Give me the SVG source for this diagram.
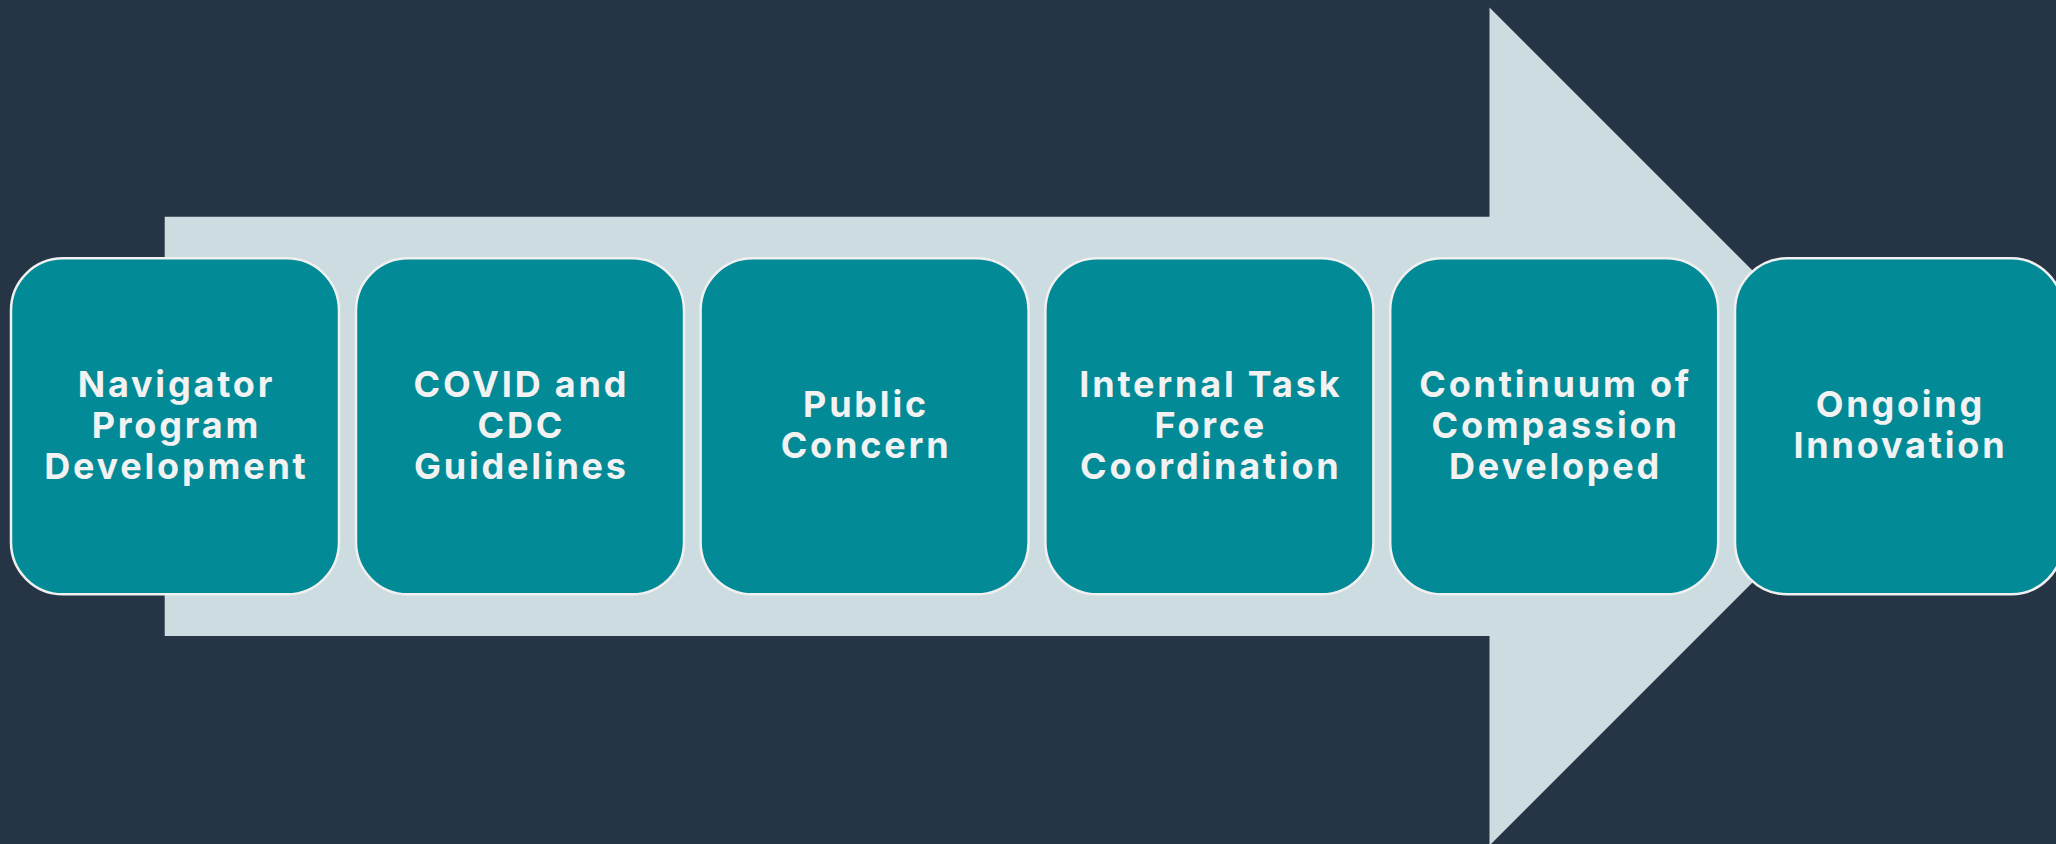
<svg xmlns="http://www.w3.org/2000/svg" width="2056" height="844" viewBox="0 0 2056 844">
<style>
.box{fill:#028A96;stroke:#F0F0F0;stroke-width:2.5}
.t{font-family:Inter,"Liberation Sans",sans-serif;font-weight:700;font-size:36px;letter-spacing:2.8px;fill:#F2F2F2;text-anchor:middle}
</style>
<rect width="2056" height="844" fill="#253546"/>
<g id="connectors">
<polygon points="164.7,216.7 1489.5,216.7 1489.5,7.5 1908.5,426.5 1489.5,845.5 1489.5,636 164.7,636" fill="#CCDCE0"/>
</g>
<g id="n1"><rect class="box" x="11" y="258.3" width="328" height="336" rx="52"/>
<text class="t" x="176.4" y="396.7">Navigator</text><text class="t" x="176.4" y="437.7">Program</text><text class="t" x="176.4" y="478.7">Development</text></g>
<g id="n2"><rect class="box" x="356" y="258.3" width="328" height="336" rx="52"/>
<text class="t" x="521.4" y="396.7">COVID and</text><text class="t" x="521.4" y="437.7">CDC</text><text class="t" x="521.4" y="478.7">Guidelines</text></g>
<g id="n3"><rect class="box" x="700.6" y="258.3" width="328" height="336" rx="52"/>
<text class="t" x="866" y="416.7">Public</text><text class="t" x="866" y="458.3">Concern</text></g>
<g id="n4"><rect class="box" x="1045.4" y="258.3" width="328" height="336" rx="52"/>
<text class="t" x="1210.8" y="396.7">Internal Task</text><text class="t" x="1210.8" y="437.7">Force</text><text class="t" x="1210.8" y="478.7">Coordination</text></g>
<g id="n5"><rect class="box" x="1390.2" y="258.3" width="328" height="336" rx="52"/>
<text class="t" x="1555.6" y="396.7">Continuum of</text><text class="t" x="1555.6" y="437.7">Compassion</text><text class="t" x="1555.6" y="478.7">Developed</text></g>
<g id="n6"><rect class="box" x="1735" y="258.3" width="328" height="336" rx="52"/>
<text class="t" x="1900.4" y="416.7">Ongoing</text><text class="t" x="1900.4" y="458.3">Innovation</text></g>
</svg>
